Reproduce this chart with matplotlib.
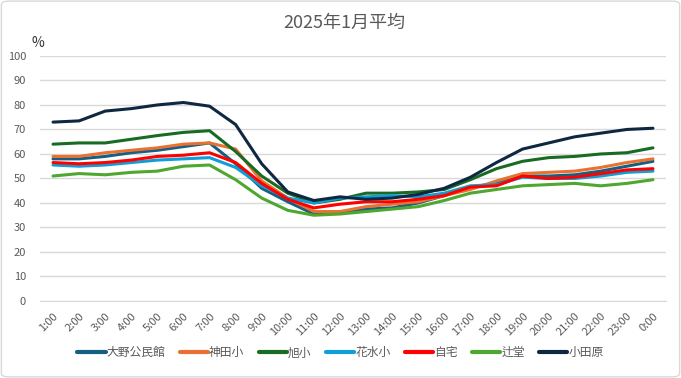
import matplotlib
matplotlib.use('Agg')
import matplotlib.pyplot as plt
from matplotlib.patches import FancyBboxPatch

plt.rcParams['font.family'] = ['Noto Sans CJK JP', 'DejaVu Sans']

# 時刻ラベル
hours = ['1:00', '2:00', '3:00', '4:00', '5:00', '6:00', '7:00', '8:00',
         '9:00', '10:00', '11:00', '12:00', '13:00', '14:00', '15:00', '16:00',
         '17:00', '18:00', '19:00', '20:00', '21:00', '22:00', '23:00', '0:00']

# 各地点の値 (%)
oono = [58, 58, 59, 60.5, 61.5, 63, 64.5, 56, 46, 40.5, 35.5, 36,
        37.5, 38, 40, 43, 46.5, 48, 51, 51, 51.5, 53, 55, 57]
kanda = [59, 59, 60.5, 61.5, 62.5, 64, 64.5, 62, 49, 42, 36.5, 36.5,
         38.5, 39.5, 40.5, 43, 45.5, 49, 52, 52.5, 53, 54.5, 56.5, 58]
asahi = [64, 64.5, 64.5, 66, 67.5, 68.8, 69.5, 61, 51, 44, 40, 41.5,
         44, 44, 44.5, 45.5, 49.5, 54, 57, 58.5, 59, 60, 60.5, 62.5]
hanamizu = [55.5, 55, 55.5, 56.5, 57.5, 58, 58.5, 54.5, 47, 42, 40, 42,
            42.5, 43, 42.5, 44, 47, 47.5, 50.5, 50, 50, 51, 52.5, 53]
jitaku = [56.5, 56, 56.5, 57.5, 59, 59.5, 60.5, 56.5, 48, 41.5, 38, 39.5,
          40.5, 40.5, 41.5, 43, 46.5, 47, 51, 50, 50.5, 52, 53.5, 54]
tsujido = [51, 52, 51.5, 52.5, 53, 55, 55.5, 49.5, 42, 37, 35, 35.5,
           36.5, 37.5, 38.5, 41, 44, 45.5, 47, 47.5, 48, 47, 48, 49.5]
odawara = [73, 73.5, 77.5, 78.5, 80, 81, 79.5, 72, 56, 44.5, 41, 42.5,
           41.5, 42, 43.5, 46, 50.5, 56.5, 62, 64.5, 67, 68.5, 70, 70.5]

series = [
    ('大野公民館', oono, '#156082'),
    ('神田小', kanda, '#E97132'),
    ('旭小', asahi, '#196B24'),
    ('花水小', hanamizu, '#0F9ED5'),
    ('自宅', jitaku, '#FF0000'),
    ('辻堂', tsujido, '#4EA72E'),
    ('小田原', odawara, '#0E2841'),
]

text_color = '#595959'

fig = plt.figure(figsize=(6.81, 3.78), dpi=100)
ax = fig.add_axes([0.0587, 0.2037, 0.9193, 0.6483])

x = list(range(len(hours)))
for name, vals, color in series:
    ax.plot(x, vals, color=color, linewidth=2.2, label=name,
            solid_capstyle='round', solid_joinstyle='round')

ax.set_xlim(-0.5, len(hours) - 0.5)
ax.set_ylim(0, 100)
ax.set_yticks(range(0, 101, 10))
ax.set_xticks(x)
ax.set_xticklabels(hours, rotation=45, ha='right', rotation_mode='anchor')
ax.tick_params(axis='both', length=0, labelsize=8, colors=text_color)
ax.tick_params(axis='x', pad=7)
ax.tick_params(axis='y', pad=10)

ax.grid(axis='y', color='#D9D9D9', linewidth=1)
ax.set_axisbelow(True)
for side in ['top', 'right', 'left']:
    ax.spines[side].set_visible(False)
ax.spines['bottom'].set_color('#D9D9D9')

fig.text(0.055, 0.887, '%', fontsize=10, color='#333333', ha='center', va='center')
fig.text(0.505, 0.94, '2025年1月平均', fontsize=13, color=text_color,
         ha='center', va='center')

leg = fig.legend(loc='center', bbox_to_anchor=(0.5, 0.067), ncol=7,
                 frameon=False, fontsize=8.5, handlelength=2.4,
                 columnspacing=1.2, handletextpad=0.1)
for t in leg.get_texts():
    t.set_color(text_color)
for h in leg.get_lines():
    h.set_linewidth(3)

# 外枠
fig.patches.append(FancyBboxPatch((0.002, 0.003), 0.996, 0.994,
                                  boxstyle='round,pad=0,rounding_size=0.01',
                                  transform=fig.transFigure, fill=False,
                                  edgecolor='#D9D9D9', linewidth=1))

fig.savefig('out.png', dpi=100, facecolor='white')
